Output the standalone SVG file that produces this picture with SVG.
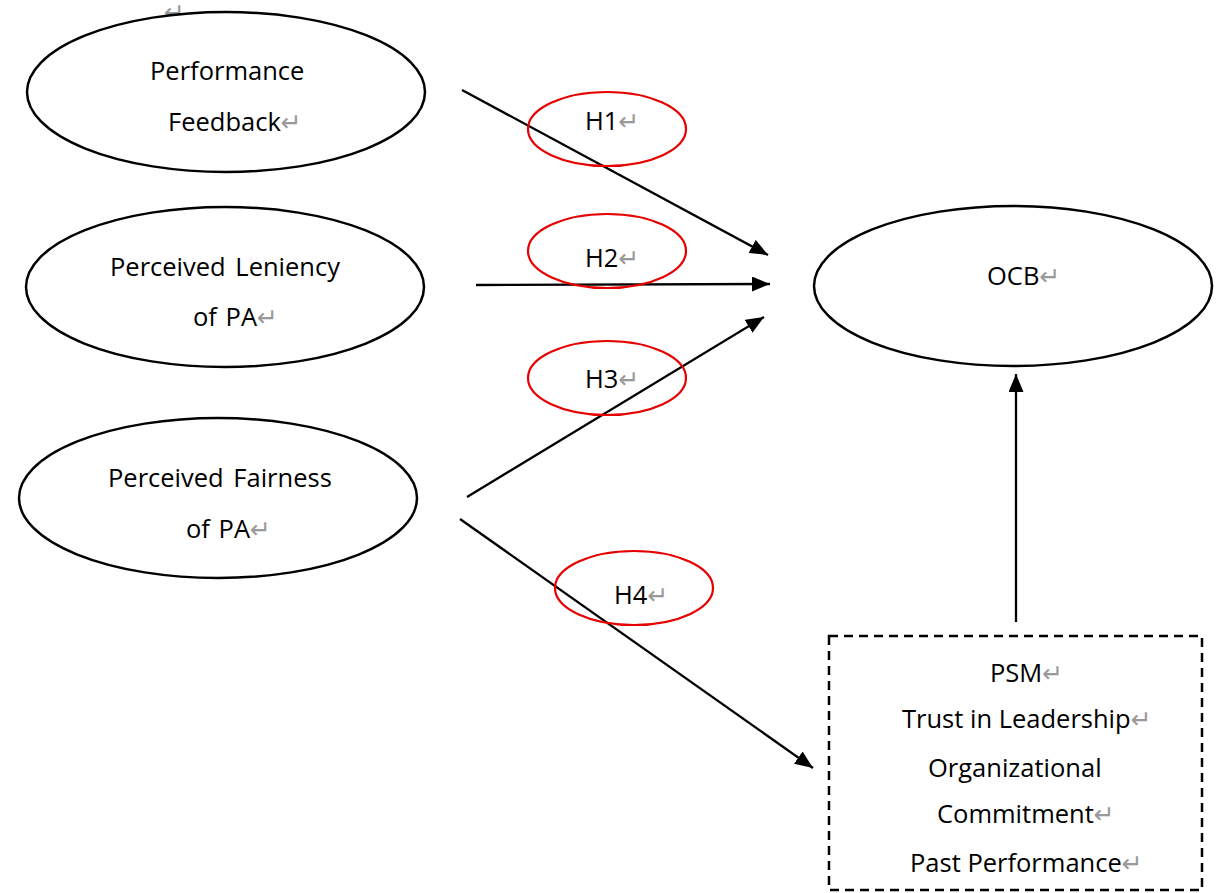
<svg xmlns="http://www.w3.org/2000/svg" width="1220" height="893" viewBox="0 0 1220 893">
<style>
.node{fill:#fff;stroke:#000;stroke-width:2.5}
.hyp{fill:none;stroke:#e60000;stroke-width:2.2}
.t{font-family:"Open Sans","Noto Sans CJK KR",sans-serif;font-size:25.5px;fill:#000}
.pm{font-family:"DejaVu Sans",sans-serif;font-size:25px;fill:#999}
.edge{stroke:#000;stroke-width:2.3;fill:none;marker-end:url(#ah)}
</style>
<defs>
<marker id="ah" markerUnits="userSpaceOnUse" markerWidth="19" markerHeight="15" refX="18" refY="7.5" orient="auto">
<path d="M0,0 L18,7.5 L0,15 z" fill="#000"/>
</marker>
</defs>
<rect width="1220" height="893" fill="#fff"/>
<text class="pm" x="164" y="21">↵</text>
<text class="pm" x="406" y="115">↵</text>
<g id="n-feedback">
<ellipse class="node" cx="226" cy="92" rx="199" ry="80"/>
<text class="t" x="150" y="80">Performance</text>
<text class="t" x="168" y="131">Feedback<tspan class="pm">↵</tspan></text>
</g>
<g id="n-leniency">
<ellipse class="node" cx="225" cy="287" rx="199" ry="80"/>
<text class="t" x="110" y="276" word-spacing="3">Perceived Leniency</text>
<text class="t" x="193" y="326" word-spacing="2">of PA<tspan class="pm">↵</tspan></text>
</g>
<g id="n-fairness">
<ellipse class="node" cx="218" cy="498" rx="199" ry="80"/>
<text class="t" x="108" y="487" word-spacing="3">Perceived Fairness</text>
<text class="t" x="186" y="538" word-spacing="2">of PA<tspan class="pm">↵</tspan></text>
</g>
<g id="n-ocb">
<ellipse class="node" cx="1013" cy="286" rx="199" ry="80"/>
<text class="t" x="987" y="285">OCB<tspan class="pm">↵</tspan></text>
</g>
<g id="n-controls">
<rect x="829" y="636" width="373" height="254" fill="none" stroke="#000" stroke-width="2.5" stroke-dasharray="9,6"/>
<text class="t" x="990" y="682">PSM<tspan class="pm">↵</tspan></text>
<text class="t" x="902" y="728">Trust in Leadership<tspan class="pm">↵</tspan></text>
<text class="t" x="928" y="777">Organizational</text>
<text class="t" x="937" y="823">Commitment<tspan class="pm">↵</tspan></text>
<text class="t" x="910" y="872">Past Performance<tspan class="pm">↵</tspan></text>
</g>
<g id="connectors">
<line class="edge" x1="462" y1="90" x2="768" y2="255"/>
<line class="edge" x1="476" y1="285" x2="770" y2="284"/>
<line class="edge" x1="467" y1="497" x2="764" y2="317"/>
<line class="edge" x1="460" y1="519" x2="813" y2="768"/>
<line class="edge" x1="1016" y1="622" x2="1016" y2="374"/>
</g>
<g id="h1">
<ellipse class="hyp" cx="607" cy="129" rx="79" ry="37"/>
<text class="t" x="585" y="130">H1<tspan class="pm">↵</tspan></text>
</g>
<g id="h2">
<ellipse class="hyp" cx="607" cy="251" rx="79" ry="37"/>
<text class="t" x="585" y="267">H2<tspan class="pm">↵</tspan></text>
</g>
<g id="h3">
<ellipse class="hyp" cx="607" cy="378" rx="79" ry="37"/>
<text class="t" x="585" y="388">H3<tspan class="pm">↵</tspan></text>
</g>
<g id="h4">
<ellipse class="hyp" cx="634" cy="588" rx="79" ry="37"/>
<text class="t" x="614" y="604">H4<tspan class="pm">↵</tspan></text>
</g>
</svg>
